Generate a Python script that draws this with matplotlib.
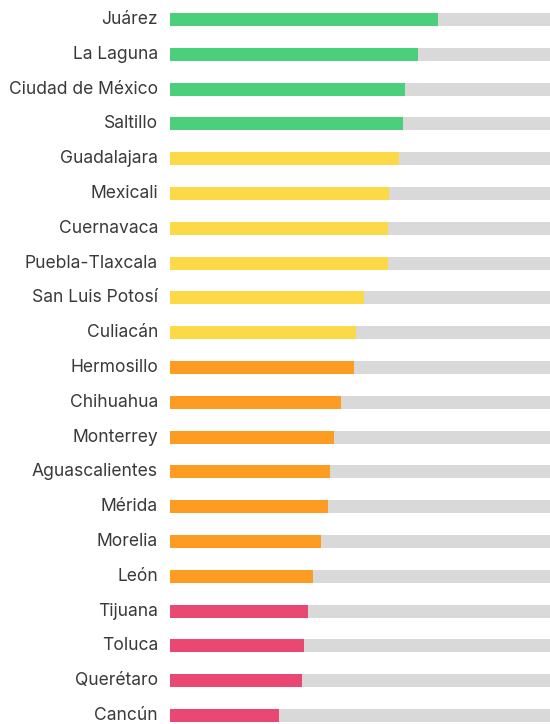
import matplotlib.pyplot as plt
from matplotlib.transforms import ScaledTranslation

plt.rcParams['font.family'] = ['Inter', 'DejaVu Sans']

# Datos
ciudades = ['Juárez', 'La Laguna', 'Ciudad de México', 'Saltillo', 'Guadalajara',
            'Mexicali', 'Cuernavaca', 'Puebla-Tlaxcala', 'San Luis Potosí', 'Culiacán',
            'Hermosillo', 'Chihuahua', 'Monterrey', 'Aguascalientes', 'Mérida',
            'Morelia', 'León', 'Tijuana', 'Toluca', 'Querétaro', 'Cancún']
valores = [70.5, 65.3, 61.8, 61.3, 60.2, 57.6, 57.4, 57.4, 51.1, 48.9,
           48.4, 45.0, 43.2, 42.2, 41.6, 39.7, 37.6, 36.3, 35.3, 34.7, 28.7]
grupos = ['verde'] * 4 + ['amarillo'] * 6 + ['naranja'] * 7 + ['rojo'] * 4
maximo = 100

colores = {'verde': '#4bcf7b', 'amarillo': '#fcd946', 'naranja': '#fc9c22', 'rojo': '#e84871'}

fig = plt.figure(figsize=(5.5, 7.24), dpi=100)
ax = fig.add_axes([170 / 550, 0, 380 / 550, 1])

pos = list(range(len(ciudades)))
alto = 13 / 34.8
ax.barh(pos, [maximo] * len(pos), height=alto, color='#d9d9d9')
ax.barh(pos, valores, height=alto, color=[colores[g] for g in grupos])

ax.set_xlim(0, maximo)
ax.set_ylim(20 + 8.5 / 34.8, -19.5 / 34.8)
ax.set_yticks(pos)
ax.set_yticklabels(ciudades, fontsize=12.6, color='#3a3a3a')
ax.tick_params(axis='y', length=0, pad=8.6)
# subir un poco las etiquetas
for lab in ax.get_yticklabels():
    lab.set_transform(lab.get_transform() + ScaledTranslation(0, 2 / 100, fig.dpi_scale_trans))
ax.set_xticks([])
for s in ax.spines.values():
    s.set_visible(False)

plt.savefig('out.png', dpi=100)
